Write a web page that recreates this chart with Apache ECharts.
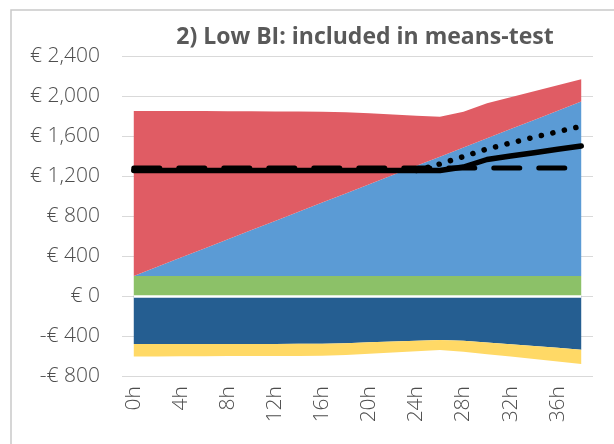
<!DOCTYPE html>
<html lang="en">
<head>
    <meta charset="UTF-8">
    <title>Low BI: included in means-test</title>
    <script src="https://cdn.jsdelivr.net/npm/echarts@6/dist/echarts.min.js"></script>
    <style>
        html, body { margin: 0; padding: 0; background: #fff; }
        #chart { width: 614px; height: 444px; }
    </style>
</head>
<body>
    <div id="chart"></div>
    <script>
        // hours worked per week
        const hours = ['0h', '2h', '4h', '6h', '8h', '10h', '12h', '14h', '16h', '18h',
                       '20h', '22h', '24h', '26h', '28h', '30h', '32h', '34h', '36h', '38h'];

        // positive stack (bottom to top)
        const basicIncome = [200, 200, 200, 200, 200, 200, 200, 200, 200, 200,
                             200, 200, 200, 200, 200, 200, 200, 200, 200, 200];
        const wages = [0, 92, 184, 275, 367, 459, 551, 643, 734, 826,
                       918, 1010, 1102, 1193, 1285, 1377, 1469, 1560, 1652, 1744];
        const benefit = [1650, 1558, 1466, 1374, 1281, 1188, 1095, 1002, 909, 812,
                         710, 605, 501, 399, 358, 350, 318, 287, 255, 223];

        // negative stack (top to bottom)
        const contributions = [-480, -480, -480, -480, -480, -479, -479, -478, -477, -472,
                               -463, -455, -447, -440, -448, -465, -483, -500, -518, -537];
        const taxes = [-125, -125, -123, -122, -120, -121, -121, -121, -121, -118,
                       -115, -110, -105, -100, -109, -117, -123, -131, -137, -143];

        // lines
        const netIncome = [1255, 1255, 1255, 1255, 1255, 1255, 1255, 1255, 1255, 1255,
                           1255, 1255, 1255, 1255, 1290, 1365, 1400, 1433, 1467, 1500];
        const meansTest = [1280, 1280, 1280, 1280, 1280, 1280, 1280, 1280, 1280, 1280,
                           1280, 1280, 1280, 1280, 1280, 1280, 1280, 1280, 1280, 1280];
        const netIncomeAlt = [null, null, null, null, null, null, null, null, null, null,
                              null, null, 1255, 1320, 1395, 1470, 1530, 1588, 1643, 1697];

        const chart = echarts.init(document.getElementById('chart'));
        const font = 'Open Sans';
        const grey = '#595959';

        function area(name, data, color, stack, extra) {
            return Object.assign({
                name: name,
                type: 'line',
                stack: stack,
                data: data,
                symbol: 'none',
                areaStyle: { color: color, opacity: 1 },
                lineStyle: { width: 0 },
                itemStyle: { color: color },
                silent: true
            }, extra || {});
        }

        const option = {
            animation: false,
            title: {
                text: '2) Low BI: included in means-test',
                left: 360,
                top: 21,
                textAlign: 'center',
                textStyle: { fontFamily: font, fontWeight: 'bold', fontSize: 23, color: grey }
            },
            graphic: [{
                type: 'rect',
                shape: { x: 11, y: 10, width: 900, height: 900 },
                style: { fill: 'none', stroke: '#c9c9c9', lineWidth: 1.5 }
            }],
            grid: { left: 122, right: 21, top: 56, bottom: 68 },
            xAxis: {
                type: 'category',
                data: hours,
                boundaryGap: true,
                axisLine: { show: false },
                axisTick: { show: false },
                axisLabel: {
                    interval: 1,
                    rotate: 90,
                    margin: 10,
                    fontFamily: font,
                    fontWeight: 300,
                    fontSize: 21,
                    color: '#4d4d4d'
                }
            },
            yAxis: {
                type: 'value',
                min: -800,
                max: 2400,
                interval: 400,
                axisLine: { show: false },
                axisTick: { show: false },
                splitLine: { lineStyle: { color: '#d9d9d9', width: 1.2 } },
                axisLabel: {
                    margin: 22,
                    fontFamily: font,
                    fontWeight: 300,
                    fontSize: 21,
                    color: '#4d4d4d',
                    formatter: v => (v < 0 ? '-' : '') + '€ ' + Math.abs(v).toLocaleString('en-US')
                }
            },
            series: [
                area('Basic income', basicIncome, '#8cc168', 'pos', {
                    markLine: {
                        silent: true,
                        symbol: 'none',
                        label: { show: false },
                        lineStyle: { color: '#ffffff', width: 2.5, type: 'solid' },
                        data: [[{ coord: ['0h', 0] }, { coord: ['38h', 0] }]]
                    }
                }),
                area('Wages', wages, '#5b9bd5', 'pos'),
                area('Benefit', benefit, '#e05c64', 'pos'),
                area('Contributions', contributions, '#255e91', 'neg'),
                area('Taxes', taxes, '#ffd966', 'neg'),
                {
                    name: 'Net income (alt)',
                    type: 'line',
                    data: netIncomeAlt,
                    symbol: 'none',
                    silent: true,
                    lineStyle: { color: '#000', width: 5.5, type: [0.1, 11.7], cap: 'round' }
                },
                {
                    name: 'Net income',
                    type: 'line',
                    data: netIncome,
                    symbol: 'none',
                    silent: true,
                    lineStyle: { color: '#000', width: 5.5, cap: 'round', join: 'round' }
                },
                {
                    name: 'Means-test level',
                    type: 'line',
                    data: meansTest,
                    symbol: 'none',
                    silent: true,
                    lineStyle: { color: '#000', width: 5, type: [26, 19], cap: 'round' }
                }
            ]
        };

        chart.setOption(option);
        window.addEventListener('resize', () => chart.resize());
    </script>
</body>
</html>
